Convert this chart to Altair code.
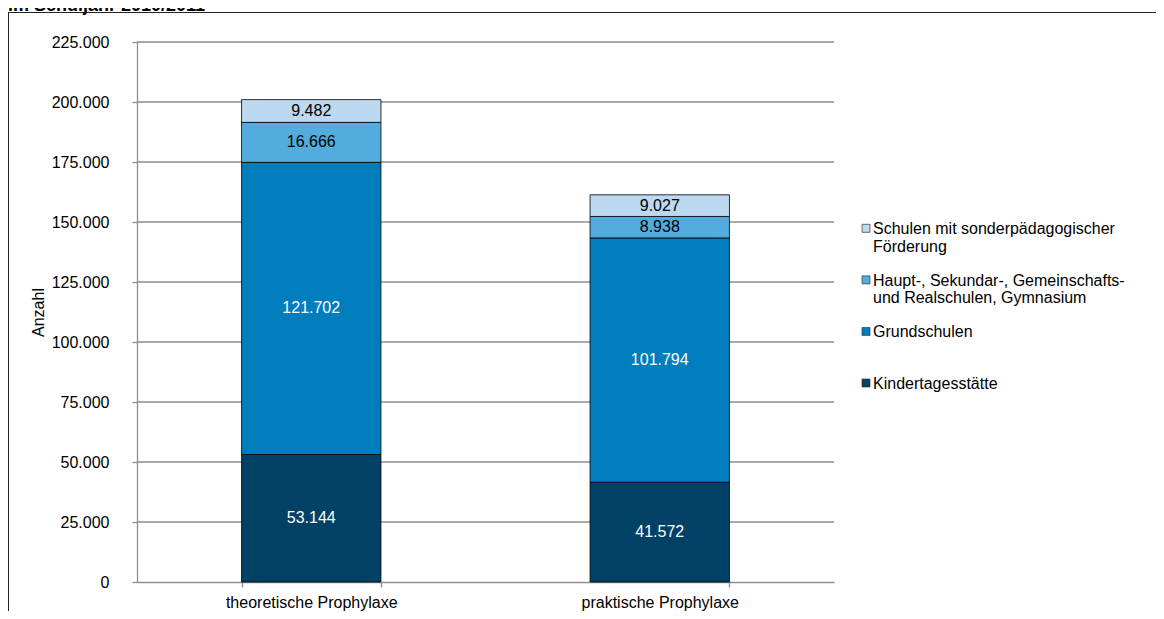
import altair as alt
import pandas as pd

categories = ["theoretische Prophylaxe", "praktische Prophylaxe"]
series = [
    "Kindertagesstätte",
    "Grundschulen",
    "Haupt-, Sekundar-, Gemeinschafts- und Realschulen, Gymnasium",
    "Schulen mit sonderpädagogischer Förderung",
]
kita = [53144, 41572]
grund = [121702, 101794]
haupt = [16666, 8938]
sonder = [9482, 9027]
colors = ["#004165", "#007DBC", "#52ACDD", "#BDD9EF"]
legend_labels = [
    "Kindertagesstätte",
    "Grundschulen",
    "Haupt-, Sekundar-, Gemeinschafts-\nund Realschulen, Gymnasium",
    "Schulen mit sonderpädagogischer\nFörderung",
]
y_ticks = [0, 25000, 50000, 75000, 100000, 125000, 150000, 175000, 200000, 225000]
title_text = "im Schuljahr 2010/2011"

FONT = "Liberation Sans"
GRAY = "#8E8E8E"
W, H = 1148, 599

rows = []
for si, (s, vals) in enumerate(zip(series, [kita, grund, haupt, sonder])):
    for c, v in zip(categories, vals):
        rows.append({"category": c, "series": s, "value": v, "order": si})
df = pd.DataFrame(rows)

df_grid = pd.DataFrame({"t": y_ticks[1:]})
df_leg = pd.DataFrame({"series": series, "lbl": legend_labels})
df_title = pd.DataFrame({"txt": [title_text]})
df_one = pd.DataFrame({"k": [0]})

yscale = alt.Scale(domain=[0, 225000], range=[570, 30], nice=False, zero=False)
xscale = alt.Scale(domain=categories, range=[129, 826], paddingInner=0.6, paddingOuter=0.3)
cscale = alt.Scale(domain=series, range=colors)
legscale = alt.Scale(type="point", domain=series[::-1], range=[216.3, 371], padding=0)

num_expr = "replace(format(datum.value, ','), ',', '.')"

x_axis = alt.Axis(
    title=None,
    labelAngle=0,
    labelFont=FONT,
    labelFontSize=16,
    labelColor="#000000",
    labelPadding=7,
    tickSize=5,
    tickColor=GRAY,
    tickWidth=1.3,
    tickBand="extent",
    domainColor=GRAY,
    domainWidth=1.3,
    offset=-(H - 570),
    grid=False,
)

grid = alt.Chart(df_grid).mark_rule(color=GRAY, strokeWidth=1.3).encode(
    y=alt.Y("t:Q", scale=yscale, axis=None),
    x=alt.value(129),
    x2=alt.value(826),
)

base = alt.Chart(df).transform_stack(
    stack="value", groupby=["category"], sort=[alt.SortField("order")], as_=["y0", "y1"]
)

bars = base.mark_bar(stroke="#000000", strokeWidth=0.8).encode(
    x=alt.X("category:N", scale=xscale, sort=categories, axis=x_axis),
    y=alt.Y(
        "y0:Q",
        scale=yscale,
        axis=alt.Axis(
            values=y_ticks,
            labelExpr=num_expr,
            labelFont=FONT,
            labelFontSize=16,
            labelColor="#000000",
            labelPadding=23,
            tickSize=5,
            tickColor=GRAY,
            tickWidth=1.3,
            domainColor=GRAY,
            domainWidth=1.3,
            grid=False,
            offset=-129,
            title="Anzahl",
            titleFont=FONT,
            titleFontSize=16,
            titleFontWeight="normal",
            titleColor="#000000",
            titlePadding=5,
        ),
    ),
    y2="y1:Q",
    color=alt.Color("series:N", scale=cscale, legend=None),
)

labels = base.transform_calculate(
    mid="(datum.y0 + datum.y1) / 2",
    lbl="replace(format(datum.value, ','), ',', '.')",
).mark_text(font=FONT, fontSize=16, baseline="middle", align="center").encode(
    x=alt.X("category:N", scale=xscale, sort=categories, axis=x_axis),
    y=alt.Y("mid:Q", scale=yscale, axis=None),
    text="lbl:N",
    fill=alt.condition("datum.order < 2", alt.value("#FFFFFF"), alt.value("#000000")),
)

leg_sym = alt.Chart(df_leg).mark_square(size=64, stroke="#3A3A3A", strokeWidth=0.7, opacity=1).encode(
    x=alt.value(858),
    y=alt.Y("series:N", scale=legscale, axis=None),
    fill=alt.Color("series:N", scale=cscale, legend=None),
)

leg_txt = alt.Chart(df_leg).mark_text(
    font=FONT, fontSize=16, align="left", baseline="alphabetic", dy=6,
    lineBreak="\n", lineHeight=17.4, color="#000000",
).encode(
    x=alt.value(865),
    y=alt.Y("series:N", scale=legscale, axis=None),
    text="lbl:N",
)

title = alt.Chart(df_title).mark_text(
    font=FONT, fontSize=18, fontWeight="bold", align="left", baseline="alphabetic", color="#000000"
).encode(
    x=alt.value(0),
    y=alt.value(-1),
    text="txt:N",
)

frame_top = alt.Chart(df_one).mark_rule(color="#222222", strokeWidth=1).encode(
    x=alt.value(0), x2=alt.value(W), y=alt.value(0.5)
)
frame_left = alt.Chart(df_one).mark_rule(color="#222222", strokeWidth=1).encode(
    x=alt.value(0.5), y=alt.value(0), y2=alt.value(H)
)

chart = alt.layer(grid, bars, labels, leg_sym, leg_txt, title, frame_top, frame_left).resolve_scale(
    y="independent"
).properties(
    width=W,
    height=H,
    autosize=alt.AutoSizeParams(type="none"),
    padding={"left": 0, "top": 4, "right": 0, "bottom": 0},
).configure_view(stroke=None)

chart.save("out.html", embed_options={"renderer": "svg", "actions": False})
